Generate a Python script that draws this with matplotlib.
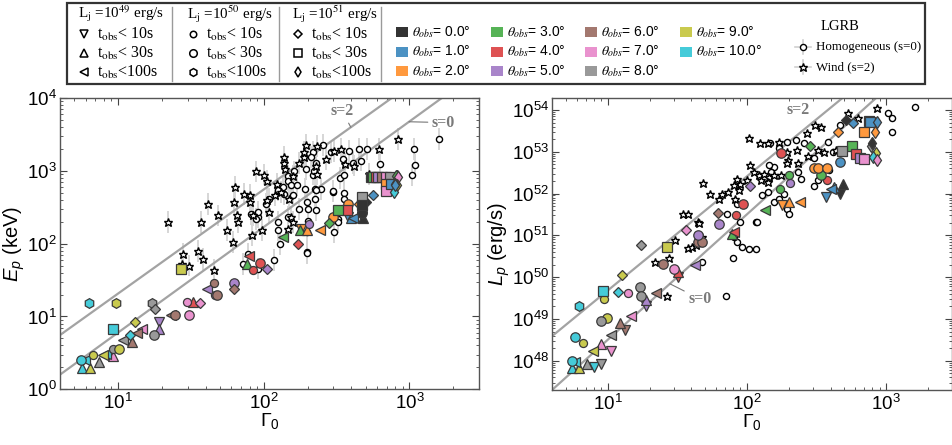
import numpy as np
import matplotlib
matplotlib.use("Agg")
import matplotlib.pyplot as plt
from matplotlib.patches import Rectangle
from matplotlib.colors import to_rgb
import matplotlib.ticker as mticker

plt.rcParams["font.family"] = ["Liberation Sans", "DejaVu Sans"]
plt.rcParams["mathtext.fontset"] = "custom"
plt.rcParams["mathtext.rm"] = "Liberation Sans"
plt.rcParams["mathtext.it"] = "Liberation Sans:italic"
plt.rcParams["mathtext.bf"] = "Liberation Sans:bold"

# ---------------- data ----------------
theta_obs = [0.0, 1.0, 2.0, 3.0, 4.0, 5.0, 6.0, 7.0, 8.0, 9.0, 10.0]
base_colors = ["#000000", "#1f77b4", "#ff7f0e", "#2ca02c", "#d62728", "#9467bd",
               "#8c564b", "#e377c2", "#7f7f7f", "#bcbd22", "#17becf"]
x_major_ticks = [10, 100, 1000]
E_major_ticks = [1, 10, 100, 1000, 10000]
L_major_ticks = [1e48, 1e49, 1e50, 1e51, 1e52, 1e53, 1e54]

# LGRB sample, left panel (Gamma0, Ep [keV])
lgrb_hom_G = [254, 217, 211, 228, 217, 220, 162, 147, 147, 154, 169, 138, 135, 125, 158, 192, 200, 198,
              225, 225, 247, 297, 357, 335, 357, 289, 348, 385, 451, 407, 464, 510, 630, 1037, 1092, 1077,
              1585, 109, 103, 91, 91, 82, 89, 175, 125, 146, 126, 130, 200, 198, 198, 305, 321, 357, 195,
              228, 228, 297, 321, 72, 78.5, 91, 118, 198]
lgrb_hom_Ep = [2270, 1800, 1535, 1270, 890, 1010, 980, 862, 736, 643, 643, 484, 597, 537, 459, 566, 301, 372,
               413, 566, 566, 520, 500, 802, 881, 1800, 1460, 1857, 2000, 1288, 1383, 2000, 1245, 881, 1208, 2000,
               2740, 413, 353, 232, 271, 258, 220, 301, 198, 232, 156, 100, 202, 144, 77, 144, 220, 413, 1065,
               537, 286, 525, 198, 52, 73, 45.5, 60, 74]
lgrb_wind_G = [22.2, 28.1, 35.3, 38.2, 37.2, 41.7, 48.8, 55.7, 61.7, 63, 64, 73, 81, 81, 66, 67, 83, 88.6,
               101, 106, 98, 84, 108, 106, 119, 123, 131, 137, 138, 140, 150, 160, 146, 154, 160, 174, 190,
               195, 190, 232, 232, 228, 267, 305, 339, 360, 417, 528, 619, 835, 27.4, 30.6, 45.5]
lgrb_wind_Ep = [198, 73, 79, 61, 198, 353, 244, 152, 105, 372, 597, 484, 469, 372, 244, 198, 130, 980,
                890, 736, 152, 244, 271, 392, 469, 664, 509, 1535, 1288, 1065, 413, 862, 160, 232, 198, 1288, 1535,
                2270, 1800, 2220, 910, 1183, 1460, 1857, 2000, 1245, 1183, 910, 2000, 2740, 53, 50, 44]

# LGRB sample, right panel (Gamma0, log10 Lp [erg/s])
lgrbL_hom_G = [147, 171, 196, 225, 256, 383, 464, 1040, 1100, 1110, 1620, 416, 452, 306, 234, 245, 157, 144,
               149, 129, 142, 157, 171, 185, 194, 201, 116, 85, 72, 85, 80.5, 93, 103, 117, 79.6, 306, 324,
               393, 71.3, 47.5, 119, 90]
lgrbL_hom_logL = [53.2, 53.08, 53.24, 53.28, 53.2, 53.24, 53.64, 53.92, 53.81, 53.48, 54.06, 53.0, 53.04, 52.84,
                  52.52, 52.36, 52.64, 52.68, 52.52, 51.96, 52.04, 51.8, 51.88, 52.0, 51.64, 51.52, 51.32, 51.76,
                  51.52, 50.84, 50.96, 50.72, 50.68, 50.68, 50.46, 52.17, 52.33, 52.56, 49.56, 50.36, 51.32, 51.32]
lgrbL_wind_G = [48.8, 54.6, 62.7, 66.4, 72.8, 34.9, 38, 44.9, 82.8, 85, 103, 124, 141, 171, 196, 198, 229, 271,
                309, 341, 361, 533, 631, 857, 112, 122, 133, 144, 157, 126, 141, 101, 90, 106, 80.5, 87.5, 175,
                194, 232, 277, 324, 440, 26.9, 21.9, 27.7, 30.4, 38, 40.2, 43.2, 47.5, 45.4]
lgrbL_wind_logL = [52.26, 52.0, 51.88, 52.0, 52.04, 51.52, 51.52, 51.32, 51.88, 52.36, 53.32, 53.2, 53.2, 53.24,
                   53.0, 52.81, 53.04, 53.46, 53.64, 53.6, 53.0, 53.92, 53.81, 54.05, 52.52, 52.44, 52.48, 52.4,
                   52.44, 52.32, 52.28, 52.32, 52.24, 52.68, 52.2, 52.09, 52.44, 52.72, 52.72, 52.89, 53.04, 53.04,
                   49.56, 50.36, 50.46, 50.88, 50.7, 50.72, 50.76, 50.96, 51.3]
lgrb_err_dex = 0.15

# simulated points, left panel: (theta_obs, Gamma0, Ep)
E_v = [(5, 19, 8.4), (0, 470, 232), (1, 380, 235), (2, 180, 160)]
E_up = [(5, 19, 6.7), (6, 12.5, 4.5), (10, 5.7, 1.94), (9, 6.4, 1.94), (8, 7.4, 2.4), (7, 9.2, 2.9),
        (4, 32.6, 15.8), (3, 77, 53), (3, 178, 152), (2, 198, 152), (1, 395, 225), (0, 480, 225)]
E_left = [(7, 14.6, 6.8), (8, 10.9, 4.7), (10, 5.9, 2.5), (10, 8.3, 3.1), (9, 7.9, 3.0), (6, 23, 10.4),
          (5, 41, 23.7), (4, 79.5, 68), (3, 135, 123), (2, 244, 152), (1, 407, 224), (6, 13.5, 6.0)]
E_osmall = [(9, 6.7, 3.0), (8, 9.2, 3.6), (6, 45.5, 29), (7, 29.7, 15.8), (5, 46.4, 19.6), (5, 205, 188),
            (4, 85, 44), (3, 321, 286)]
E_obig = [(10, 5.6, 2.5), (9, 10.1, 3.6), (8, 17.7, 5.5), (6, 24.7, 10.4), (6, 47.5, 19.6), (7, 30.5, 10.4),
          (5, 63, 29), (4, 95, 54), (2, 300, 232), (2, 376, 353), (2, 330, 290), (1, 476, 286), (0, 470, 262)]
E_hex = [(10, 6.3, 15.5), (9, 9.7, 15.5), (8, 17.1, 15.5)]
E_diam = [(8, 18, 12.5), (9, 13, 8.4), (10, 12.1, 5.5), (7, 36.8, 15.5), (6, 62.4, 23.7), (5, 105, 45.5),
          (4, 172, 100), (3, 282, 194), (2, 452, 353), (0, 500, 370), (1, 566, 459)]
E_sq = [(10, 9.3, 6.8), (9, 27.2, 44.5), (4, 372, 286), (8, 471, 435), (0, 476, 335), (3, 321, 286),
        (0, 545, 820), (3, 560, 820), (4, 585, 820), (5, 610, 820), (6, 650, 820), (7, 690, 820), (8, 730, 820),
        (2, 689, 664), (7, 689, 525), (1, 745, 664)]
E_thin = [(0, 820, 850), (8, 815, 840), (3, 805, 860), (7, 830, 820), (9, 820, 643), (10, 785, 509),
          (2, 800, 664), (1, 790, 640)]

# simulated points, right panel: (theta_obs, Gamma0, log10 Lp)
L_v = [(5, 18.8, 49.30), (4, 31.8, 50.0), (6, 13.4, 48.74), (7, 10.5, 48.24), (10, 8.0, 47.84),
       (8, 8.9, 47.92), (2, 180, 51.73), (1, 372, 51.92), (0, 464, 51.98)]
L_up = [(5, 18.8, 49.46), (4, 31.8, 50.13), (6, 12.2, 48.9), (7, 9.0, 48.4), (10, 5.5, 47.82), (9, 6.2, 47.82),
        (8, 7.1, 47.92), (3, 78, 51.04), (2, 200, 51.81), (0, 491, 52.22), (1, 420, 52.15)]
L_left = [(6, 22.2, 49.62), (7, 14.7, 49.06), (8, 10.6, 48.62), (9, 7.9, 48.24), (10, 5.8, 47.96),
          (5, 42.3, 50.3), (4, 80.5, 51.08), (3, 136, 51.6), (2, 242, 51.81), (1, 404, 52.12)]
L_osmall = [(9, 6.6, 48.42), (9, 9.4, 49.48), (7, 14.1, 49.62), (5, 205, 52.26), (4, 84, 51.49),
            (3, 201, 52.44), (3, 173, 52.12), (4, 376, 52.32)]
L_obig = [(10, 5.5, 48.0), (10, 5.8, 48.56), (9, 9.9, 49.02), (8, 9.0, 48.94), (8, 17.1, 49.76),
          (8, 17.3, 49.54), (7, 30.1, 50.2), (6, 24.8, 50.32), (6, 44.9, 50.84), (6, 47.5, 50.84),
          (5, 44.5, 51.0), (5, 63.4, 51.28), (4, 94, 51.76), (4, 175, 52.96), (3, 342, 52.45),
          (2, 306, 52.62), (2, 327, 52.62), (2, 376, 52.62), (1, 464, 52.76)]
L_hex = [(10, 6.2, 49.32)]
L_diam = [(8, 17.5, 50.76), (9, 12.7, 50.06), (10, 11.9, 49.64), (7, 36.4, 51.14), (6, 62, 51.54),
          (5, 105, 52.18), (3, 286, 53.13), (2, 456, 53.48), (0, 513, 53.76), (1, 580, 53.69)]
L_sq = [(10, 9.2, 49.66), (9, 26.8, 50.72), (0, 750, 53.73), (1, 766, 53.72), (2, 697, 53.48),
        (3, 574, 53.14), (8, 483, 53.02), (4, 614, 52.94), (5, 648, 52.86), (7, 697, 52.82)]
L_thin = [(1, 857, 53.72), (2, 832, 53.48), (8, 787, 53.13), (9, 842, 52.96), (10, 801, 52.88),
          (7, 867, 52.81), (0, 800, 53.2)]

# closure-relation lines: (norm at Gamma0=10, slope)
E_line_s2 = (20.6, 1.43)
E_line_s0 = (6.0, 1.45)
L_line_s2 = (49.68, 2.73)   # log10 L at Gamma0=10
L_line_s0 = (48.5, 3.0)

# ---------------- style ----------------
def blend(c, a=0.8):
    r = np.array(to_rgb(c))
    return tuple(a * r + (1 - a))

colors = [blend(c) for c in base_colors]
EDGE = "#3a3a3a"
MK = {"v": ("v", 7.0), "^": ("^", 7.0), "<": ("<", 7.0), "os": ("o", 5.8), "ob": ("o", 6.8),
      "h": ("h", 7.0), "D": ("D", 5.5), "s": ("s", 6.5), "d": ("d", 6.3)}

W, H = 953, 445
fig = plt.figure(figsize=(W / 100, H / 100), dpi=100)
axL = fig.add_axes([60 / W, 1 - 389.3 / H, 419 / W, 291.3 / H])
axR = fig.add_axes([552.3 / W, 1 - 390 / H, 400 / W, 291.7 / H])

GX = np.logspace(np.log10(3.0), np.log10(4000), 200)


def style_axis(ax, yticks):
    ax.set_xscale("log")
    ax.set_yscale("log")
    ax.tick_params(which="both", direction="in", top=True, right=True, colors="#444444",
                   labelcolor="black", labelsize=13.5, pad=2.5)
    ax.tick_params(which="major", length=5, width=0.8)
    ax.tick_params(which="minor", length=2.5, width=0.6)
    ax.xaxis.set_major_locator(mticker.FixedLocator(x_major_ticks))
    ax.yaxis.set_major_locator(mticker.FixedLocator(yticks))
    ax.xaxis.set_major_formatter(mticker.LogFormatterSciNotation())
    ax.yaxis.set_major_formatter(mticker.LogFormatterSciNotation())
    ax.xaxis.set_minor_locator(mticker.LogLocator(base=10, subs=np.arange(2, 10), numticks=50))
    ax.yaxis.set_minor_locator(mticker.LogLocator(base=10, subs=np.arange(2, 10), numticks=50))
    ax.xaxis.set_minor_formatter(mticker.NullFormatter())
    ax.yaxis.set_minor_formatter(mticker.NullFormatter())
    for s in ax.spines.values():
        s.set_color("#555555")
        s.set_linewidth(1.0)
    ax.set_xlim(4, 3000)


def draw_sim(ax, groups, logy=False):
    for key, pts in groups:
        m, ms = MK[key]
        for th, g, y in pts:
            yy = 10.0 ** y if logy else y
            ax.plot(g, yy, marker=m, ms=ms, mfc=colors[int(th)], mec=EDGE, mew=0.9,
                    ls="none", zorder=4)


def draw_lgrb(ax, G, Y, marker, ms, err):
    G = np.asarray(G, float)
    Y = np.asarray(Y, float)
    lo = Y * (1 - 10 ** (-err))
    hi = Y * (10 ** err - 1)
    ax.errorbar(G, Y, yerr=[lo, hi], fmt="none", ecolor="#d6d6d6", elinewidth=1.4, zorder=1)
    ax.plot(G, Y, ls="none", marker=marker, ms=ms, mfc="white", mec="black", mew=1.0, zorder=3)


label_kw = dict(family="Liberation Serif", fontweight="bold", color="#7a7a7a", fontsize=11.5,
                ha="center", va="center")
arrow_kw = dict(arrowstyle="-", color="#777777", lw=0.8, shrinkA=1, shrinkB=0)

# ---- left panel ----
style_axis(axL, E_major_ticks)
axL.set_ylim(1, 1e4)
for (A, k) in (E_line_s2, E_line_s0):
    axL.plot(GX, A * (GX / 10) ** k, color="#a3a3a3", lw=1.6, zorder=2)
draw_lgrb(axL, lgrb_hom_G, lgrb_hom_Ep, "o", 4.4, lgrb_err_dex)
draw_lgrb(axL, lgrb_wind_G, lgrb_wind_Ep, "*", 6.3, lgrb_err_dex)
draw_sim(axL, [("v", E_v), ("^", E_up), ("<", E_left), ("os", E_osmall), ("ob", E_obig),
               ("h", E_hex), ("D", E_diam), ("s", E_sq), ("d", E_thin)])
axL.annotate("s=2", xy=(396, E_line_s2[0] * (39.6) ** E_line_s2[1]), xytext=(345, 6600),
             arrowprops=arrow_kw, **label_kw)
axL.annotate("s=0", xy=(993, E_line_s0[0] * (99.3) ** E_line_s0[1]), xytext=(1714, 4600),
             arrowprops=arrow_kw, **label_kw)
axL.set_xlabel(r"$\Gamma_0$", fontsize=14, labelpad=-1)
axL.set_ylabel(r"$E_p$ (keV)", fontsize=14.5, labelpad=0)

# ---- right panel ----
style_axis(axR, L_major_ticks)
axR.set_ylim(10 ** 47.3, 10 ** 54.28)
for (a, k) in (L_line_s2, L_line_s0):
    axR.plot(GX, 10.0 ** (a + k * np.log10(GX / 10)), color="#a3a3a3", lw=1.6, zorder=2)
draw_lgrb(axR, lgrbL_hom_G, 10.0 ** np.array(lgrbL_hom_logL), "o", 4.4, 0.05)
draw_lgrb(axR, lgrbL_wind_G, 10.0 ** np.array(lgrbL_wind_logL), "*", 6.3, 0.05)
draw_sim(axR, [("v", L_v), ("^", L_up), ("<", L_left), ("os", L_osmall), ("ob", L_obig),
               ("h", L_hex), ("D", L_diam), ("s", L_sq), ("d", L_thin)], logy=True)
axR.annotate("s=2", xy=(300, 10.0 ** (L_line_s2[0] + L_line_s2[1] * np.log10(30.0))),
             xytext=(232, 10 ** 53.99), arrowprops=arrow_kw, **label_kw)
axR.annotate("s=0", xy=(28, 10.0 ** (L_line_s0[0] + L_line_s0[1] * np.log10(2.8))),
             xytext=(46, 10 ** 49.48), arrowprops=arrow_kw, **label_kw)
axR.set_xlabel(r"$\Gamma_0$", fontsize=14, labelpad=-1)
axR.set_ylabel(r"$L_p$ (erg/s)", fontsize=14.5, labelpad=0)

# ---------------- legend box (pixel coordinates of the top strip) ----------------
TOP = 90
lax = fig.add_axes([0, 1 - TOP / H, 1, TOP / H], zorder=10)
lax.set_xlim(0, W)
lax.set_ylim(TOP, 0)
lax.axis("off")
lax.add_patch(Rectangle((67, 3), 858, 81, fill=False, ec="#333333", lw=1.6))
for xd in (172, 279, 381):
    lax.plot([xd, xd], [7, 81], color="#9a9a9a", lw=1.0)

serif = dict(family="Liberation Serif", math_fontfamily="stix", color="black")
col_titles = [r"L$_{\rm j}$ =10$^{49}$ erg/s", r"L$_{\rm j}$ =10$^{50}$ erg/s", r"L$_{\rm j}$ =10$^{51}$ erg/s"]
col_x = [78, 187, 292]
col_marks = [["v", "^", "<"], ["os", "ob", "h"], ["D", "s", "d"]]
row_txt = [r"t$_{\rm obs}$< 10s", r"t$_{\rm obs}$< 30s", r"t$_{\rm obs}$<100s"]
row_y = [34, 53, 72]
for ci in range(3):
    lax.text(col_x[ci], 14, col_titles[ci], fontsize=10.8, ha="left", va="center", **serif)
    for ri in range(3):
        m, ms = MK[col_marks[ci][ri]]
        lax.plot(col_x[ci] + 6.5, row_y[ri], marker=m, ms=ms * 0.8, mfc="white", mec="black",
                 mew=1.1, ls="none")
        lax.text(col_x[ci] + 19, row_y[ri], row_txt[ri], fontsize=11.5, ha="left", va="center", **serif)

th_cols = [396, 491, 585, 680]
th_rows = [32, 51.5, 71]
for i, th in enumerate(theta_obs):
    c, r = divmod(i, 3)
    x0, yc = th_cols[c], th_rows[r]
    lax.add_patch(Rectangle((x0, yc - 5), 12, 10, fc=colors[i], ec="none"))
    lax.text(x0 + 16, yc, r"$\theta_{obs}$" + "= %.1f\u00b0" % th, fontsize=10, ha="left",
             va="center", family="Liberation Sans", math_fontfamily="stix")

lax.text(840, 27, "LGRB", fontsize=10.5, ha="center", va="center", **serif)
for yy, m, ms, txt in ((47, "o", 4.4, "Homogeneous (s=0)"), (67, "*", 6.3, "Wind (s=2)")):
    lax.plot([795, 811], [yy, yy], color="#d0d0d0", lw=1.2)
    lax.plot([803, 803], [yy - 7, yy + 7], color="#d0d0d0", lw=1.2)
    lax.plot(803, yy, marker=m, ms=ms, mfc="white", mec="black", mew=1.0, ls="none")
    lax.text(816, yy, txt, fontsize=9.3, ha="left", va="center", **serif)

fig.savefig("out.png", dpi=100)
